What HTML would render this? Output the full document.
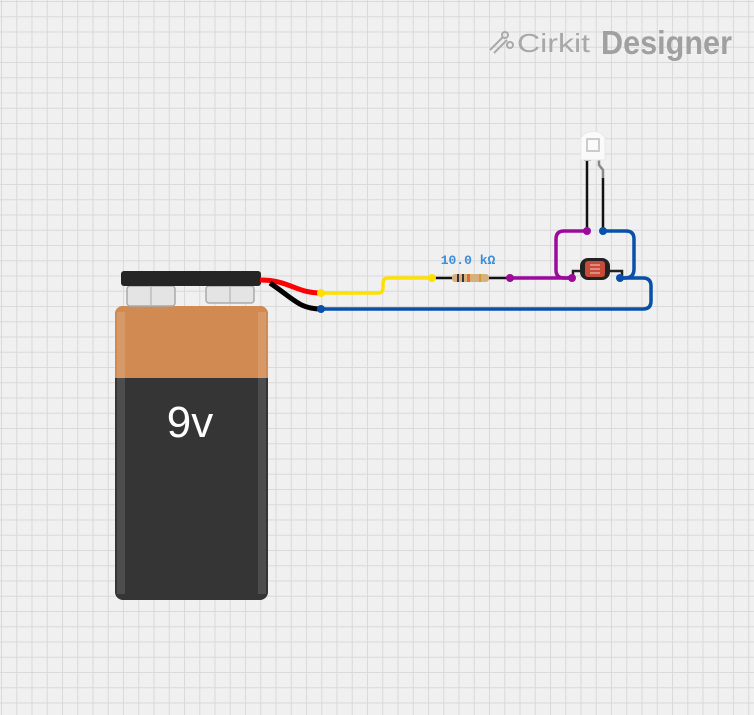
<!DOCTYPE html>
<html><head><style>
html,body{margin:0;padding:0;}
body{width:754px;height:715px;overflow:hidden;background:#f0f0f0;
background-image:linear-gradient(to right,#d9d9d9 1px,transparent 1px),linear-gradient(to bottom,#d9d9d9 1px,transparent 1px);
background-size:15.25px 15.25px;background-position:1px 1px;}
</style></head><body>
<svg width="754" height="715" style="position:absolute;left:0;top:0" xmlns="http://www.w3.org/2000/svg">
<!-- logo -->
<g stroke="#aaa" stroke-width="2" fill="none">
<line x1="490" y1="50" x2="503" y2="37"/><line x1="494" y1="53" x2="507" y2="40"/>
<circle cx="505" cy="35" r="3"/><circle cx="510" cy="45" r="3"/>
</g>
<text x="517" y="52" font-family="Liberation Sans, sans-serif" font-size="26" fill="#a8a8a8" textLength="73" lengthAdjust="spacingAndGlyphs">Cirkit</text>
<text x="601" y="54" font-family="Liberation Sans, sans-serif" font-size="33" font-weight="bold" fill="#a0a0a0" textLength="131" lengthAdjust="spacingAndGlyphs">Designer</text>
<!-- battery -->
<rect x="115" y="306" width="153" height="294" rx="8" fill="#353535"/>
<path d="M115 378 V314 a8 8 0 0 1 8 -8 H260 a8 8 0 0 1 8 8 V378 Z" fill="#d18b52"/>
<rect x="117" y="312" width="8" height="282" fill="#fff" opacity="0.12"/>
<rect x="258" y="312" width="8" height="282" fill="#fff" opacity="0.12"/>
<text x="190" y="437" font-family="Liberation Sans, sans-serif" font-size="44" fill="#fff" text-anchor="middle">9v</text>
<g fill="#e4e4e4" stroke="#aaa" stroke-width="1.5">
<rect x="127" y="286" width="48" height="20" rx="3"/>
<rect x="206" y="286" width="48" height="17" rx="3"/>
</g>
<line x1="151" y1="287" x2="151" y2="305" stroke="#aaa"/>
<line x1="230" y1="287" x2="230" y2="302" stroke="#aaa"/>
<rect x="121" y="271" width="140" height="15" rx="3" fill="#252525"/>
<!-- battery wires -->
<path d="M260 280 C290 280 295 293 321 293" stroke="#f00" stroke-width="5" fill="none"/>
<path d="M270 283 C295 300 300 309 321 309" stroke="#000" stroke-width="5" fill="none"/>
<!-- yellow -->
<path d="M321 293 H378 q5 0 5 -5 v-5 q0 -5 5 -5 H432" stroke="#ffe000" stroke-width="3.5" fill="none"/>
<!-- blue bottom -->
<path d="M321 309 H643 q8 0 8 -8 v-15 q0 -8 -8 -8 H620" stroke="#0a4fa8" stroke-width="3.5" fill="none"/>
<!-- blue top -->
<path d="M603 231 H626 q8 0 8 8 v30 q0 9 -9 9 H620" stroke="#0a4fa8" stroke-width="3.5" fill="none"/>
<!-- purple -->
<path d="M510 278 H572" stroke="#9b0a9b" stroke-width="3.5" fill="none"/>
<path d="M587 231 H564 q-8 0 -8 8 v31 q0 8 8 8 H572" stroke="#9b0a9b" stroke-width="3.5" fill="none"/>
<!-- resistor -->
<line x1="432" y1="278" x2="510" y2="278" stroke="#111" stroke-width="2.5"/>
<rect x="452" y="274" width="37" height="8" rx="3" fill="#d8b080"/>
<rect x="457" y="274" width="2" height="8" fill="#333"/><rect x="462" y="274" width="2" height="8" fill="#333"/>
<rect x="467" y="274" width="3" height="8" fill="#e07020"/><rect x="479" y="274" width="2" height="8" fill="#c9a030"/>
<text x="468" y="264" font-family="Liberation Mono, monospace" font-size="13" font-weight="bold" fill="#3a8fd8" text-anchor="middle">10.0 kΩ</text>
<!-- LED -->
<line x1="587" y1="160" x2="587" y2="231" stroke="#111" stroke-width="2.5"/>
<path d="M603 178 V170 l-4 -5 V158" stroke="#888" stroke-width="2.5" fill="none"/>
<line x1="603" y1="178" x2="603" y2="231" stroke="#111" stroke-width="2.5"/>
<rect x="584" y="147" width="7" height="14" fill="#999"/>
<path d="M581 160 V138 a13 11 0 0 1 24 0 V160 Z" fill="#fafafa" stroke="#e8e8e8"/>
<rect x="587" y="139" width="12" height="12" fill="none" stroke="#ccc" stroke-width="2"/>
<!-- LDR -->
<path d="M573 278 V271 H622 V278" stroke="#222" stroke-width="2.5" fill="none"/>
<rect x="580" y="258" width="30" height="22" rx="8" fill="#222"/>
<rect x="585" y="261" width="20" height="16" rx="3" fill="#c84a3a"/>
<path d="M590 265 h10 M590 269 h10 M590 273 h10" stroke="#f4d0c0" stroke-width="1"/>
<!-- dots -->
<circle cx="321" cy="293" r="4" fill="#ffe000"/>
<circle cx="432" cy="278" r="4" fill="#ffe000"/>
<circle cx="321" cy="309" r="4" fill="#0a4fa8"/>
<circle cx="510" cy="278" r="4" fill="#9b0a9b"/>
<circle cx="572" cy="278" r="4" fill="#9b0a9b"/>
<circle cx="587" cy="231" r="4" fill="#9b0a9b"/>
<circle cx="603" cy="231" r="4" fill="#0a4fa8"/>
<circle cx="620" cy="278" r="4" fill="#0a4fa8"/>
</svg>
</body></html>
